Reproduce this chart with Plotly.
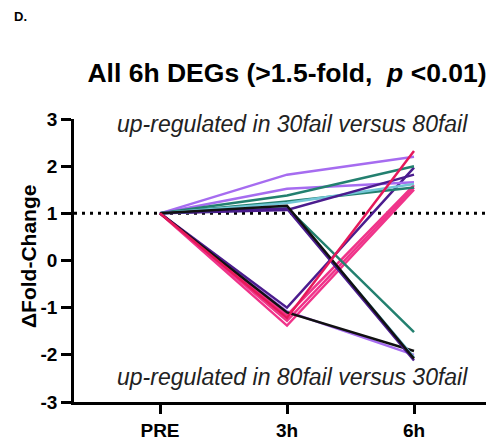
import plotly.graph_objects as go

# ---- data ----
timepoints = ["PRE", "3h", "6h"]
y_ticks = [3, 2, 1, 0, -1, -2, -3]
y_tick_labels = ["3", "2", "1", "0", "-1", "-2", "-3"]

up_purple_1 = [1, 1.82, 2.20]
up_purple_2 = [1, 1.52, 1.66]
up_teal_1 = [1, 1.38, 2.00]
up_teal_2 = [1, 1.25, 1.55]
up_indigo = [1, 1.07, 1.82]
up_cyan = [1, 1.22, 1.62]
cross_teal = [1, 1.12, -1.52]
cross_cyan = [1, 1.13, -2.05]
cross_indigo = [1, 1.10, -2.12]
cross_black = [1, 1.16, -2.08]
down_pink_1 = [1, -1.28, 1.55]
down_pink_2 = [1, -1.38, 1.50]
down_pink_3 = [1, -1.16, 1.60]
down_red = [1, -1.22, 2.32]
down_indigo = [1, -1.00, 1.97]
down_lavender = [1, -1.08, -2.00]
down_black = [1, -1.10, -1.92]

PURPLE = "#a66cf0"
TEAL = "#23806f"
INDIGO = "#4b1c8e"
CYAN = "#72c6d6"
BLACK = "#111111"
RED = "#e5195a"
PINK = "#f0348a"

series = [
    (down_lavender, PURPLE),
    (down_pink_1, PINK),
    (down_pink_2, PINK),
    (down_pink_3, PINK),
    (down_indigo, INDIGO),
    (down_black, BLACK),
    (up_purple_1, PURPLE),
    (up_purple_2, PURPLE),
    (up_teal_1, TEAL),
    (up_teal_2, TEAL),
    (up_cyan, CYAN),
    (up_indigo, INDIGO),
    (cross_teal, TEAL),
    (cross_cyan, CYAN),
    (cross_indigo, INDIGO),
    (cross_black, BLACK),
    (down_red, RED),
]

FONT = "Liberation Sans, Arial, sans-serif"

fig = go.Figure()
for vals, col in series:
    fig.add_trace(go.Scatter(
        x=timepoints, y=vals, mode="lines",
        line=dict(color=col, width=2.5),
        showlegend=False, hoverinfo="skip",
    ))

# the page body has an 8px margin: figure is laid out 8px up/left
OFF = 8
FW, FH = 494 - OFF, 440 - OFF
L, T, W, H = 74 - OFF, 119 - OFF, 420, 283

def px(xp):
    return (xp - OFF - L) / W

def py(yp):
    return (T + H - (yp - OFF)) / H

fig.update_layout(
    width=FW, height=FH,
    margin=dict(l=L, r=FW - L - W, t=T, b=FH - T - H, pad=0),
    paper_bgcolor="white", plot_bgcolor="white",
    font=dict(family=FONT, color="black"),
    title=dict(
        text="<b>All 6h DEGs (>1.5-fold,  <i>p</i> <0.01)</b>",
        x=(287 - OFF) / FW, xref="container", xanchor="center",
        y=1 - (73 - OFF) / FH, yref="container", yanchor="middle",
        font=dict(size=26.5, family=FONT, color="black"),
    ),
    xaxis=dict(
        type="category",
        range=[-86 / 127, (W - 86) / 127],
        showline=True, linecolor="black", linewidth=2.5,
        ticks="outside", ticklen=9, tickwidth=2.5, tickcolor="black",
        showgrid=False, zeroline=False,
        tickfont=dict(size=19, family=FONT, color="black", weight="bold"),
    ),
    yaxis=dict(
        range=[-3, 3],
        tickvals=y_ticks, ticktext=y_tick_labels,
        showline=True, linecolor="black", linewidth=2.5,
        ticks="outside", ticklen=10, tickwidth=2.5, tickcolor="black",
        showgrid=False, zeroline=False,
        tickfont=dict(size=19, family=FONT, color="black", weight="bold"),
    ),
    shapes=[dict(
        type="line", xref="paper", yref="y", x0=0, x1=1, y0=1, y1=1,
        line=dict(color="black", width=3, dash="3px,5px"),
        layer="below",
    )],
    annotations=[
        dict(text="<b>D.</b>", xref="paper", yref="paper",
             x=px(12), y=py(16), xanchor="left", yanchor="middle",
             showarrow=False, font=dict(size=13, family=FONT, color="black")),
        dict(text="<b>ΔFold-Change</b>", xref="paper", yref="paper",
             x=px(28), y=py(257), xanchor="center", yanchor="middle",
             textangle=-90, showarrow=False,
             font=dict(size=21, family=FONT, color="black")),
        dict(text="<i>up-regulated in 30fail versus 80fail</i>",
             xref="paper", yref="paper", x=px(292), y=py(124),
             xanchor="center", yanchor="middle", showarrow=False,
             font=dict(size=23, family=FONT, color="#222222")),
        dict(text="<i>up-regulated in 80fail versus 30fail</i>",
             xref="paper", yref="paper", x=px(292), y=py(377),
             xanchor="center", yanchor="middle", showarrow=False,
             font=dict(size=23, family=FONT, color="#222222")),
    ],
)

fig.write_html("out.html")
